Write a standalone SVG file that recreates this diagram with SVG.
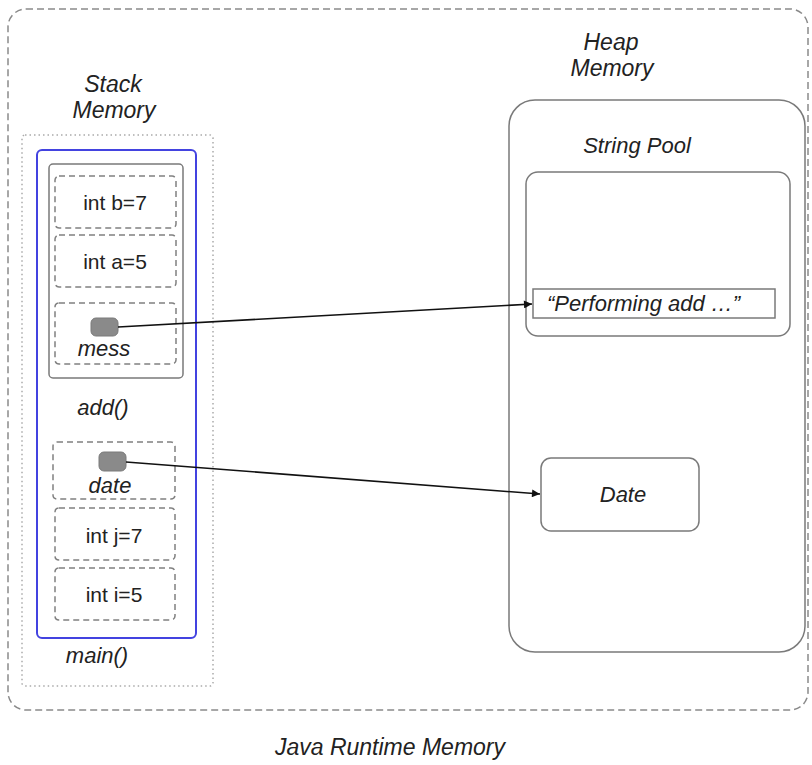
<svg xmlns="http://www.w3.org/2000/svg" width="812" height="765" viewBox="0 0 812 765">
<defs>
<style>
text{font-family:"Liberation Sans",Arial,sans-serif;fill:#222;font-size:21px}
.it{font-style:italic;font-size:22px}
.h{font-size:23px}
.t{text-anchor:middle}
.var{fill:none;stroke:#808080;stroke-width:1.5;stroke-dasharray:6 4}
.solid{fill:none;stroke:#7a7a7a;stroke-width:1.5}
.ptr{fill:#8a8a8a;stroke:#7a7a7a;stroke-width:1}
.conn{fill:none;stroke:#111;stroke-width:1.6}
</style>
<marker id="ah" viewBox="0 0 10 10" refX="10" refY="5" markerWidth="11" markerHeight="8" markerUnits="userSpaceOnUse" orient="auto">
<path d="M0,0 L10,5 L0,10 z" fill="#111"/>
</marker>
</defs>
<rect width="812" height="765" fill="#fff"/>
<g id="runtime">
<rect x="8" y="9" width="800" height="701" rx="18" fill="none" stroke="#8a8a8a" stroke-width="1.5" stroke-dasharray="7 4"/>
<text class="it h t" x="390" y="755">Java Runtime Memory</text>
</g>
<g id="stack">
<text class="it h t" x="113" y="92">Stack</text>
<text class="it h t" x="114" y="118">Memory</text>
<rect x="22" y="135" width="191" height="551" rx="3" fill="none" stroke="#aaa" stroke-width="1.5" stroke-dasharray="1.5 3"/>
</g>
<g id="main">
<rect x="37" y="150" width="159" height="488" rx="5" fill="none" stroke="#4343e0" stroke-width="2"/>
<text class="it t" x="97" y="663">main()</text>
</g>
<g id="add">
<rect x="49" y="164" width="134" height="214" rx="4" class="solid" stroke-width="2"/>
<text class="it t" x="103" y="415">add()</text>
</g>
<g id="var-b">
<rect x="55" y="176" width="121" height="52" rx="4" class="var"/>
<text class="t" x="115" y="210">int b=7</text>
</g>
<g id="var-a">
<rect x="55" y="235" width="121" height="52" rx="4" class="var"/>
<text class="t" x="115" y="269">int a=5</text>
</g>
<g id="var-mess">
<rect x="55" y="303" width="121" height="61" rx="4" class="var"/>
<rect x="91" y="318" width="27" height="18" rx="5" class="ptr"/>
<text class="it t" x="104" y="356">mess</text>
</g>
<g id="var-date">
<rect x="53" y="442" width="122" height="57" rx="4" class="var"/>
<rect x="99" y="452" width="27" height="19" rx="5" class="ptr"/>
<text class="it t" x="110" y="493">date</text>
</g>
<g id="var-j">
<rect x="55" y="508" width="120" height="52" rx="4" class="var"/>
<text class="t" x="114" y="543">int j=7</text>
</g>
<g id="var-i">
<rect x="55" y="568" width="120" height="52" rx="4" class="var"/>
<text class="t" x="114" y="602">int i=5</text>
</g>
<g id="heap">
<text class="it h t" x="611" y="50">Heap</text>
<text class="it h t" x="612" y="76">Memory</text>
<rect x="509" y="100" width="296" height="552" rx="26" class="solid"/>
</g>
<g id="string-pool">
<text class="it t" x="637" y="153">String Pool</text>
<rect x="526" y="172" width="264" height="164" rx="12" class="solid"/>
</g>
<g id="string-literal">
<rect x="533" y="289" width="242" height="29" class="solid"/>
<text class="it" x="547" y="311" font-size="23.5">“Performing add …”</text>
</g>
<g id="date-object">
<rect x="541" y="458" width="158" height="73" rx="10" class="solid"/>
<text class="it t" x="623" y="502">Date</text>
</g>
<g id="connectors">
<line x1="118" y1="327" x2="532" y2="304" class="conn" marker-end="url(#ah)"/>
<line x1="126" y1="462" x2="540" y2="494" class="conn" marker-end="url(#ah)"/>
</g>
</svg>
